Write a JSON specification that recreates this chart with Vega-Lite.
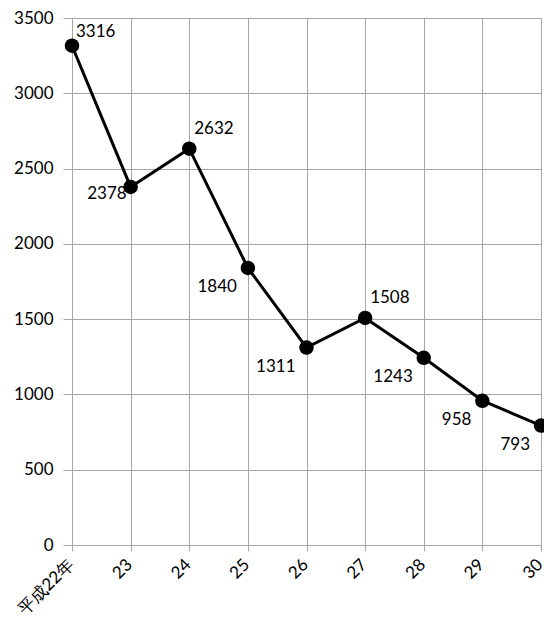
{
  "$schema": "https://vega.github.io/schema/vega-lite/v6.json",
  "autosize": "none",
  "padding": {"left": 72, "top": 18, "right": 3, "bottom": 87},
  "width": 469,
  "height": 527,
  "config": {
    "view": {"stroke": null},
    "font": "Lato",
    "axis": {"labelFont": "Lato", "labelFontSize": 17, "labelColor": "#000000", "gridColor": "#a6a6a6", "gridWidth": 1, "tickColor": "#a6a6a6", "domainColor": "#a6a6a6", "title": null}
  },
  "data": {
    "values": [
      {"year": "平成22年", "value": 3316},
      {"year": "23", "value": 2378},
      {"year": "24", "value": 2632},
      {"year": "25", "value": 1840},
      {"year": "26", "value": 1311},
      {"year": "27", "value": 1508},
      {"year": "28", "value": 1243},
      {"year": "29", "value": 958},
      {"year": "30", "value": 793}
    ]
  },
  "encoding": {
    "x": {"field": "year", "type": "ordinal", "sort": null, "scale": {"type": "point", "padding": 0},
      "axis": {"labelAngle": -45, "labelAlign": "right", "labelBaseline": "top", "labelOffset": -7, "grid": true, "tickSize": 6, "labelPadding": 5}},
    "y": {"field": "value", "type": "quantitative", "scale": {"domain": [0, 3500], "nice": false},
      "axis": {"values": [0, 500, 1000, 1500, 2000, 2500, 3000, 3500], "format": "d", "tickSize": 9, "labelPadding": 10, "grid": true}}
  },
  "layer": [
    {"mark": {"type": "line", "color": "#000000", "strokeWidth": 3}},
    {"mark": {"type": "circle", "color": "#000000", "opacity": 1, "size": 210}},
    {"transform": [{"filter": {"field": "year", "oneOf": ["24", "27"]}}],
     "mark": {"type": "text", "align": "left", "baseline": "middle", "dx": 5, "dy": -20, "fontSize": 17, "color": "#000000"},
     "encoding": {"text": {"field": "value", "type": "quantitative"}}},
    {"transform": [{"filter": {"field": "year", "equal": "平成22年"}}],
     "mark": {"type": "text", "align": "left", "baseline": "middle", "dx": 4, "dy": -14, "fontSize": 17, "color": "#000000"},
     "encoding": {"text": {"field": "value", "type": "quantitative"}}},
    {"transform": [{"filter": {"field": "year", "oneOf": ["25", "26", "28", "29", "30"]}}],
     "mark": {"type": "text", "align": "right", "baseline": "middle", "dx": -11, "dy": 19, "fontSize": 17, "color": "#000000"},
     "encoding": {"text": {"field": "value", "type": "quantitative"}}},
    {"transform": [{"filter": {"field": "year", "equal": "23"}}],
     "mark": {"type": "text", "align": "right", "baseline": "middle", "dx": -4, "dy": 7, "fontSize": 17, "color": "#000000"},
     "encoding": {"text": {"field": "value", "type": "quantitative"}}}
  ]
}
